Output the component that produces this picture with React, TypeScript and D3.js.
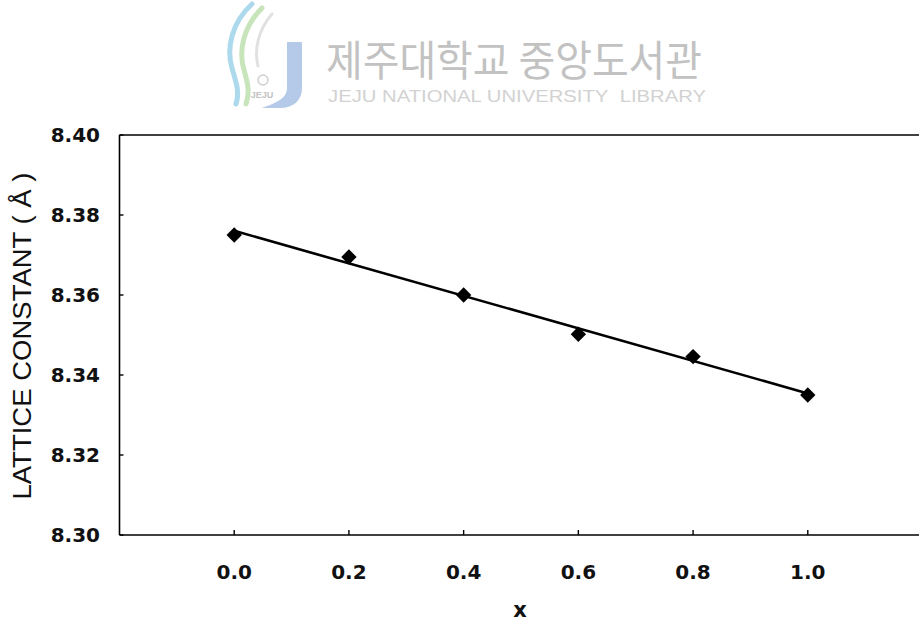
import React from "react";
import * as d3 from "d3";

// Composition x and measured lattice constant (Å)
const compositions = [0.0, 0.2, 0.4, 0.6, 0.8, 1.0];
const latticeConstants = [8.375, 8.3695, 8.36, 8.3502, 8.3446, 8.335];

const xTicks = [0.0, 0.2, 0.4, 0.6, 0.8, 1.0];
const yTicks = [8.3, 8.32, 8.34, 8.36, 8.38, 8.4];

const xDomain: [number, number] = [-0.2, 1.2];
const yDomain: [number, number] = [8.3, 8.4];

const yTitle = "LATTICE CONSTANT ( Å )";
const xTitle = "x";
const libraryName = "제주대학교 중앙도서관";
const libraryNameEn = "JEJU NATIONAL UNIVERSITY\u00a0\u00a0LIBRARY";

const W = 919;
const H = 627;
const plot = { left: 119.5, right: 922.5, top: 135, bottom: 535 };

// Least-squares straight line through the measured points
function linearFit(xs: number[], ys: number[]) {
  const mx = d3.mean(xs) as number;
  const my = d3.mean(ys) as number;
  const sxy = d3.sum(xs, (x, i) => (x - mx) * (ys[i] - my));
  const sxx = d3.sum(xs, (x) => (x - mx) * (x - mx));
  const slope = sxy / sxx;
  return { slope, intercept: my - slope * mx };
}

export default function App() {
  const x = d3.scaleLinear().domain(xDomain).range([plot.left, plot.right]);
  const y = d3.scaleLinear().domain(yDomain).range([plot.bottom, plot.top]);

  const fit = linearFit(compositions, latticeConstants);
  const fitX = d3.extent(compositions) as [number, number];
  const fitLine = d3
    .line<number>()
    .x((d) => x(d))
    .y((d) => y(fit.intercept + fit.slope * d))(fitX);

  const diamond = d3.symbol().type(d3.symbolSquare).size(118)();

  const numFont = "'DejaVu Sans', 'Liberation Sans', Arial, sans-serif";
  const titleFont = "'Liberation Sans', Arial, sans-serif";

  return (
    <svg
      width={W}
      height={H}
      viewBox={`0 0 ${W} ${H}`}
      style={{ position: "fixed", left: 0, top: 0, background: "#fff" }}
    >
      <rect x={0} y={0} width={W} height={H} fill="#fff" />

      {/* library logo mark */}
      <g opacity={0.85}>
        <path
          d="M252,4 C232,22 226,48 232,68 C236,82 240,92 236,104"
          fill="none"
          stroke="#9fd3ea"
          strokeWidth={5}
          strokeLinecap="round"
        />
        <path
          d="M262,8 C244,26 238,50 244,70 C248,84 250,92 246,104"
          fill="none"
          stroke="#bfe0b0"
          strokeWidth={5}
          strokeLinecap="round"
        />
        <path
          d="M272,14 C258,30 254,50 258,66"
          fill="none"
          stroke="#dcdcdc"
          strokeWidth={3}
          strokeLinecap="round"
        />
        <path
          d="M287,42 H302 V88 C302,100 294,108 280,108 H262 C272,104 287,100 287,88 Z"
          fill="#a9c1e4"
        />
        <circle cx={263} cy={80} r={5} fill="none" stroke="#c8c8c8" strokeWidth={1.5} />
        <text
          x={262}
          y={98}
          fontSize={9}
          fontWeight="bold"
          fill="#b8b8b8"
          textAnchor="middle"
          fontFamily={titleFont}
        >
          JEJU
        </text>
      </g>
      <text
        x={326}
        y={76}
        fontSize={42}
        fill="#c2c2c2"
        textLength={376}
        lengthAdjust="spacingAndGlyphs"
        fontFamily="'Noto Sans CJK KR', sans-serif"
      >
        {libraryName}
      </text>
      <text
        x={328}
        y={102}
        fontSize={16}
        fill="#d2d2d2"
        textLength={378}
        lengthAdjust="spacingAndGlyphs"
        fontFamily={titleFont}
      >
        {libraryNameEn}
      </text>

      {/* plot frame */}
      <g stroke="#000" strokeWidth={1.6} fill="none">
        <line x1={plot.left} x2={plot.right} y1={plot.top} y2={plot.top} />
        <line x1={plot.left} x2={plot.right} y1={plot.bottom} y2={plot.bottom} />
        <line x1={plot.left} x2={plot.left} y1={plot.top} y2={plot.bottom} />
        <line x1={plot.right} x2={plot.right} y1={plot.top} y2={plot.bottom} />
      </g>

      {/* y axis ticks and labels */}
      {yTicks.map((t) => (
        <g key={`y${t}`}>
          <line x1={plot.left} x2={plot.left + 4} y1={y(t)} y2={y(t)} stroke="#000" strokeWidth={1.4} />
          <text
            x={100}
            y={y(t)}
            dy="0.36em"
            textAnchor="end"
            fontSize={20}
            fontWeight="bold"
            fontFamily={numFont}
            fill="#111"
          >
            {t.toFixed(2)}
          </text>
        </g>
      ))}

      {/* x axis ticks and labels */}
      {xTicks.map((t) => (
        <g key={`x${t}`}>
          <line x1={x(t)} x2={x(t)} y1={plot.bottom} y2={plot.bottom - 5} stroke="#000" strokeWidth={1.4} />
          <text
            x={x(t)}
            y={579}
            textAnchor="middle"
            fontSize={20}
            fontWeight="bold"
            fontFamily={numFont}
            fill="#111"
          >
            {t.toFixed(1)}
          </text>
        </g>
      ))}

      {/* axis titles */}
      <text
        x={520}
        y={617}
        textAnchor="middle"
        fontSize={21}
        fontWeight="bold"
        fontFamily={numFont}
        fill="#111"
      >
        {xTitle}
      </text>
      <text
        transform={`translate(31,336) rotate(-90)`}
        textAnchor="middle"
        fontSize={25}
        textLength={327}
        lengthAdjust="spacingAndGlyphs"
        fontFamily={titleFont}
        fill="#111"
      >
        {yTitle}
      </text>

      {/* fitted line */}
      <path d={fitLine ?? ""} fill="none" stroke="#000" strokeWidth={2.6} />

      {/* measured points */}
      {compositions.map((c, i) => (
        <path
          key={`p${c}`}
          d={diamond ?? ""}
          transform={`translate(${x(c)},${y(latticeConstants[i])}) rotate(45)`}
          fill="#000"
        />
      ))}
    </svg>
  );
}
